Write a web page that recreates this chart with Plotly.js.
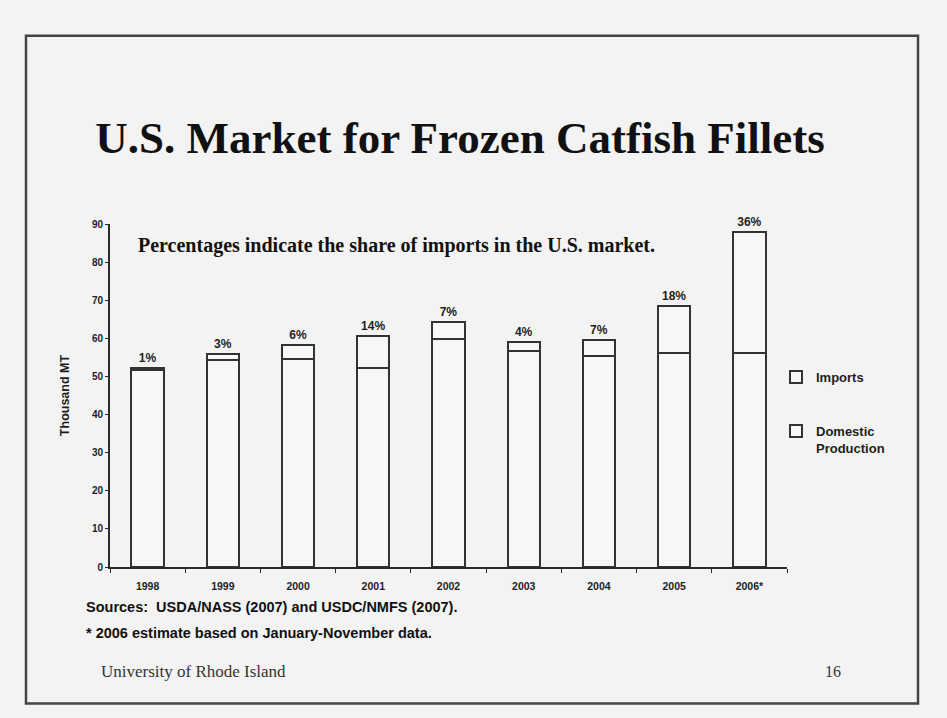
<!DOCTYPE html>
<html>
<head>
<meta charset="utf-8">
<script src="https://cdn.plot.ly/plotly-3.0.1.min.js"></script>
<style>
  html, body { margin: 0; padding: 0; background: #f3f3f3; }
  #chart { width: 947px; height: 718px; }
</style>
</head>
<body>
<div id="chart"></div>
<script>
// Data
const years = ["1998", "1999", "2000", "2001", "2002", "2003", "2004", "2005", "2006*"];
const domestic = [51.8, 54.3, 54.6, 52.2, 59.7, 56.7, 55.3, 56.2, 56.1];
const imports = [0.5, 1.7, 3.6, 8.3, 4.6, 2.4, 4.2, 12.4, 31.7];
const importShare = ["1%", "3%", "6%", "14%", "7%", "4%", "7%", "18%", "36%"];
const yTicks = [0, 10, 20, 30, 40, 50, 60, 70, 80, 90];

const ink = "#1e1e1e";
const barFill = "#f7f7f7";
const barLine = "#333333";
const sans = "Liberation Sans, Arial, sans-serif";
const serif = "Liberation Serif, Times New Roman, serif";

const traces = [
  {
    type: "bar",
    name: "Domestic<br>Production",
    x: years,
    y: domestic,
    width: 0.43,
    marker: { color: barFill, line: { color: barLine, width: 2 } },
    legendgroup: "d",
    legendrank: 2,
    hoverinfo: "x+y+name"
  },
  {
    type: "bar",
    name: "Imports",
    x: years,
    y: imports,
    width: 0.43,
    text: importShare,
    texttemplate: "<b>%{text}</b>",
    textposition: "outside",
    textfont: { family: sans, size: 12, color: ink },
    cliponaxis: false,
    marker: { color: barFill, line: { color: barLine, width: 2 } },
    legendgroup: "i",
    legendrank: 1,
    hoverinfo: "x+y+name"
  }
];

const L = 110, R = 787, B = 566.7, T = 224;
const W = R - L, H = B - T;
const px = v => (v - L) / W;
const py = v => (B - v) / H;

const layout = {
  width: 947,
  height: 718,
  paper_bgcolor: "#f3f3f3",
  plot_bgcolor: "#f3f3f3",
  margin: { l: L, r: 947 - R, t: T, b: 718 - B, pad: 0 },
  barmode: "stack",
  showlegend: true,
  title: {
    text: "<b>U.S. Market for Frozen Catfish Fillets</b>",
    font: { family: serif, size: 45, color: "#111" },
    x: 460 / 947,
    xanchor: "center",
    y: 1 - 137 / 718,
    yanchor: "middle"
  },
  xaxis: {
    type: "category",
    range: [-0.5, 8.5],
    showline: true,
    linecolor: "#2a2a2a",
    linewidth: 2,
    ticks: "outside",
    tickson: "boundaries",
    ticklen: 4,
    tickcolor: "#2a2a2a",
    ticklabelstandoff: 8,
    tickfont: { family: sans, size: 10.5, color: ink, weight: "bold" },
    showgrid: false,
    zeroline: false,
    fixedrange: true
  },
  yaxis: {
    range: [0, 90],
    tickvals: yTicks,
    ticktext: yTicks.map(String),
    showline: true,
    linecolor: "#2a2a2a",
    linewidth: 2,
    ticks: "outside",
    ticklen: 3,
    tickcolor: "#2a2a2a",
    tickfont: { family: sans, size: 10, color: ink, weight: "bold" },
    showgrid: false,
    zeroline: false,
    title: {
      text: "<b>Thousand MT</b>",
      font: { family: sans, size: 12.5, color: ink },
      standoff: 20
    },
    fixedrange: true
  },
  legend: {
    x: px(776),
    xanchor: "left",
    y: py(362),
    yanchor: "top",
    traceorder: "grouped",
    tracegroupgap: 34,
    valign: "top",
    bgcolor: "rgba(0,0,0,0)",
    font: { family: sans, size: 13, color: ink, weight: "bold" },
    itemwidth: 30
  },
  annotations: [
    {
      text: "<b>Percentages indicate the share of imports in the U.S. market.</b>",
      xref: "paper", yref: "paper",
      x: px(136), xanchor: "left",
      y: py(245), yanchor: "middle",
      showarrow: false,
      font: { family: serif, size: 20, color: "#111" }
    },
    {
      text: "<b>Sources:  USDA/NASS (2007) and USDC/NMFS (2007).</b>",
      xref: "paper", yref: "paper",
      x: px(84), xanchor: "left",
      y: py(607), yanchor: "middle",
      showarrow: false,
      font: { family: sans, size: 14.5, color: "#111" }
    },
    {
      text: "<b>* 2006 estimate based on January-November data.</b>",
      xref: "paper", yref: "paper",
      x: px(84), xanchor: "left",
      y: py(633), yanchor: "middle",
      showarrow: false,
      font: { family: sans, size: 14.5, color: "#111" }
    },
    {
      text: "University of Rhode Island",
      xref: "paper", yref: "paper",
      x: px(99), xanchor: "left",
      y: py(671), yanchor: "middle",
      showarrow: false,
      font: { family: serif, size: 17, color: "#333" }
    },
    {
      text: "16",
      xref: "paper", yref: "paper",
      x: px(833), xanchor: "center",
      y: py(671), yanchor: "middle",
      showarrow: false,
      font: { family: serif, size: 16, color: "#333" }
    }
  ],
  shapes: [
    {
      type: "rect",
      xref: "paper", yref: "paper",
      x0: px(26), x1: px(918),
      y0: py(703), y1: py(36),
      line: { color: "#444", width: 2.5 },
      fillcolor: "rgba(0,0,0,0)",
      layer: "below"
    }
  ]
};

Plotly.newPlot("chart", traces, layout, { displayModeBar: false });
</script>
</body>
</html>
